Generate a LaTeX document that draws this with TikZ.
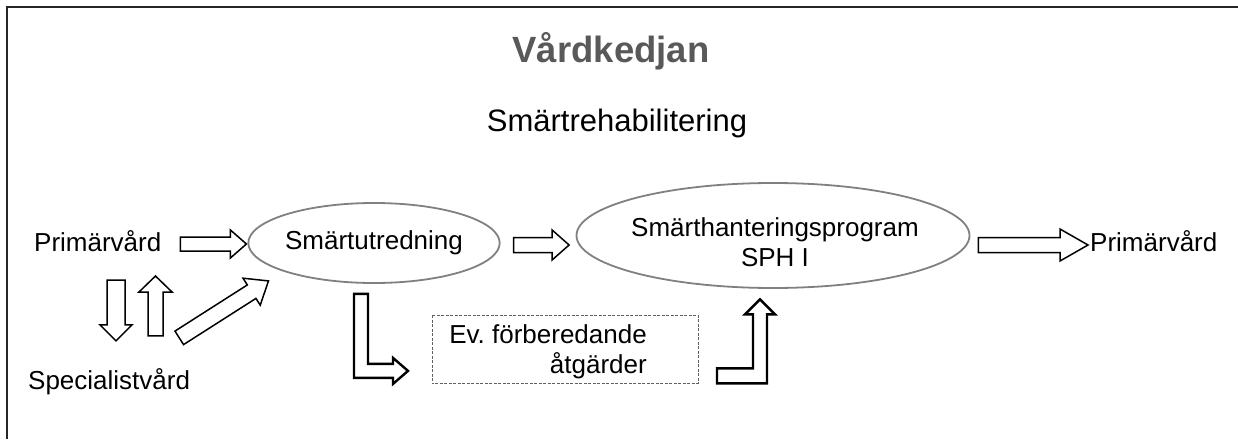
\documentclass[tikz,border=0pt]{standalone}
\usepackage{fontspec}
\setmainfont{Liberation Sans}
\usetikzlibrary{calc,shapes.geometric,positioning}
\definecolor{titlecol}{HTML}{595959}
\definecolor{ringcol}{HTML}{808080}
\definecolor{boxcol}{HTML}{606060}

% block arrow: from, to, shaft half width, head half width, head length
\newcommand{\blockarrow}[5]{%
  \coordinate (ba-h) at ($(#2)!#5!(#1)$);
  \draw[blk] ($(#1)!#3!90:(#2)$) -- ($(ba-h)!#3!90:(#2)$) -- ($(ba-h)!#4!90:(#2)$) -- (#2)
    -- ($(ba-h)!#4!-90:(#2)$) -- ($(ba-h)!#3!-90:(#2)$) -- ($(#1)!#3!-90:(#2)$) -- cycle;}

\begin{document}
\begin{tikzpicture}[x=1pt, y=-1pt,
  lbl/.style={font=\fontsize{26}{30}\selectfont, inner sep=0pt},
  ring/.style={ellipse, draw=ringcol, line width=1.8pt, inner sep=0pt, align=center,
    font=\fontsize{26}{30}\selectfont},
  blk/.style={draw=black, line width=1.5pt, fill=white, line join=miter},
  bendarr/.style={blk, line width=2.4pt},
  prepbox/.style={draw=boxcol, dash pattern=on 3pt off 1.5pt, line width=1pt}
]
  \useasboundingbox (0,0) rectangle (1238,439);
  % frame
  \draw[line width=1.8pt, black!85] (7,439) -- (7,7) -- (1238,7);

  \node[font=\fontsize{36.5}{40}\selectfont\bfseries, text=titlecol, anchor=base] (title) at (611,62) {Vårdkedjan};
  \node[font=\fontsize{31}{36}\selectfont, anchor=base] (sub) at (617,131) {Smärtrehabilitering};

  \node[lbl, anchor=base west] (prim) at (34,251) {Primärvård};
  \node[lbl, anchor=base west] (spec) at (28,389) {Specialistvård};
  \node[ring, minimum width=240pt, minimum height=80pt] (sut) at (374,243) {Smärtutredning};
  \node[ring, minimum width=393pt, minimum height=105pt] (shp) at (773,235.5) {};
  \node[lbl, align=center] (shptxt) at ($(shp.center)+(2,7)$) {Smärthanteringsprogram\\SPH I};
  \node[lbl, anchor=base west] (prim2) at (1090,251) {Primärvård};
  \node[lbl, align=right, anchor=east] (prep) at (647,351.4) {Ev.\ förberedande\\åtgärder};
  \draw[prepbox] ($(prep.north west)+(-17,-9)$) rectangle ($(prep.south east)+(51,5)$);

  % straight block arrows
  \coordinate (a1s) at ($(sut.west)+(-67,1)$);
  \coordinate (a1e) at ($(sut.west)+(-1,1)$);
  \blockarrow{a1s}{a1e}{7pt}{14pt}{16pt}
  \coordinate (a2s) at ($(sut.east)+(13,2)$);
  \coordinate (a2e) at ($(shp.west)+(-6.5,9.5)$);
  \blockarrow{a2s}{a2e}{7.5pt}{15pt}{17pt}
  \coordinate (a3s) at ($(shp.east)+(8,9.5)$);
  \coordinate (a3e) at ($(prim2.base west)+(-2,-6)$);
  \blockarrow{a3s}{a3e}{7.5pt}{16pt}{28pt}
  \coordinate (ds) at ($(prim.base west)+(82,29)$);
  \coordinate (de) at ($(spec.north west)+(88,-27)$);
  \blockarrow{ds}{de}{9pt}{16pt}{16pt}
  \coordinate (us) at ($(spec.north west)+(127.5,-32)$);
  \coordinate (ue) at ($(prim.base west)+(121.5,25)$);
  \blockarrow{us}{ue}{7.5pt}{16.5pt}{16pt}
  \coordinate (gs) at ($(spec.north east)+(-11,-30)$);
  \coordinate (ge) at ($(sut.south west)+(-16,9)$);
  \blockarrow{gs}{ge}{8pt}{16pt}{20pt}

  % bent block arrows
  \coordinate (l1) at ($(sut.south)+(-13,10)$);
  \draw[bendarr] (l1) ++(-7,0) -- ++(14,0) -- ++(0,70) -- ++(25,0) -- ++(0,-6) -- ++(15,13)
    -- ++(-15,13) -- ++(0,-6) -- ++(-39,0) -- cycle;
  \coordinate (l2) at ($(shp.south)+(-13,10.5)$);
  \draw[bendarr] (l2) -- ++(15,15) -- ++(-8,0) -- ++(0,69) -- ++(-50,0) -- ++(0,-15)
    -- ++(36,0) -- ++(0,-54) -- ++(-8,0) -- cycle;
\end{tikzpicture}
\end{document}
